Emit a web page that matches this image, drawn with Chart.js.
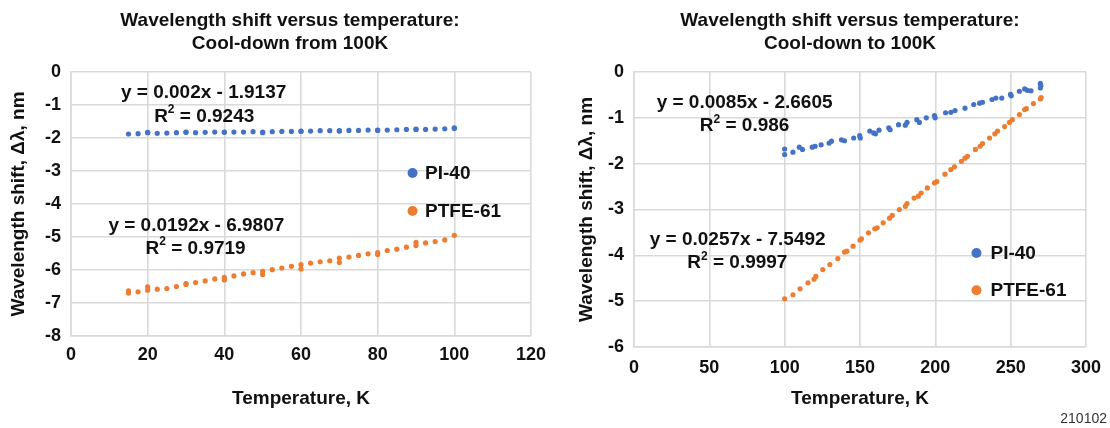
<!DOCTYPE html>
<html>
<head>
<meta charset="utf-8">
<script src="https://cdn.jsdelivr.net/npm/chart.js@4.4.1/dist/chart.umd.min.js"></script>
<style>
  body { margin: 0; background: #fff; width: 1110px; height: 428px; overflow: hidden; position: relative; }
  .box { position: absolute; top: 0; }
  #figId { position: absolute; right: 3px; top: 410px; font: 14px "Liberation Sans", Arial, sans-serif; color: #333; }
</style>
</head>
<body>
<div class="box" style="left:0px"><canvas id="leftChart" width="580" height="428"></canvas></div>
<div class="box" style="left:560px"><canvas id="rightChart" width="580" height="428"></canvas></div>
<div id="figId">210102</div>

<script>
// ---- left chart: cool-down from 100K ----
const leftTitle = ['Wavelength shift versus temperature:', 'Cool-down from 100K'];
const leftPITemps = [15, 17.5, 20, 20, 22.5, 25, 27.5, 30, 30, 32.5, 35, 37.5, 40, 40, 42.5, 45, 47.5, 50, 50, 52.5, 55, 57.5, 60, 60, 62.5, 65, 67.5, 70, 70, 72.5, 75, 77.5, 80, 80, 82.5, 85, 87.5, 90, 90, 92.5, 95, 97.5, 100, 100];
const leftPI = [-1.88, -1.87, -1.83, -1.84, -1.86, -1.85, -1.84, -1.83, -1.82, -1.84, -1.83, -1.82, -1.82, -1.83, -1.82, -1.82, -1.81, -1.82, -1.84, -1.81, -1.80, -1.80, -1.79, -1.80, -1.79, -1.78, -1.78, -1.78, -1.79, -1.77, -1.77, -1.76, -1.76, -1.77, -1.76, -1.75, -1.74, -1.73, -1.74, -1.74, -1.73, -1.72, -1.69, -1.71];
const leftPTFETemps = [15, 15, 17.5, 20, 20, 22.5, 25, 27.5, 30, 30, 32.5, 35, 37.5, 40, 40, 42.5, 45, 47.5, 50, 50, 52.5, 55, 57.5, 60, 60, 62.5, 65, 67.5, 70, 70, 72.5, 75, 77.5, 80, 80, 82.5, 85, 87.5, 90, 90, 92.5, 95, 97.5, 100];
const leftPTFE = [-6.63, -6.70, -6.66, -6.61, -6.51, -6.58, -6.56, -6.50, -6.41, -6.44, -6.38, -6.33, -6.27, -6.22, -6.30, -6.18, -6.12, -6.08, -6.04, -6.14, -5.99, -5.94, -5.89, -5.84, -5.97, -5.79, -5.75, -5.72, -5.64, -5.77, -5.61, -5.56, -5.51, -5.47, -5.53, -5.41, -5.37, -5.31, -5.16, -5.26, -5.18, -5.14, -5.09, -4.95];
const leftXTicks = [0, 20, 40, 60, 80, 100, 120];
const leftYTicks = [0, -1, -2, -3, -4, -5, -6, -7, -8];
const leftNotes = ['y = 0.002x - 1.9137', 'R² = 0.9243', 'y = 0.0192x - 6.9807', 'R² = 0.9719'];

// ---- right chart: cool-down to 100K ----
const rightTitle = ['Wavelength shift versus temperature:', 'Cool-down to 100K'];
const rightPITemps = [100, 100, 105.5, 109.7, 111.8, 118.3, 120.2, 124.2, 129.5, 131.1, 137.7, 139.7, 145.8, 149.8, 150.2, 156.5, 159.1, 160.3, 162.6, 169.1, 170.0, 175.6, 180.1, 181.2, 187.7, 189.4, 194.0, 199.4, 199.9, 206.8, 210.3, 213.1, 219.7, 225.5, 229.4, 231.3, 237.6, 240.2, 244.1, 249.9, 250.4, 255.8, 259.3, 261.1, 263.5, 269.7, 270.0, 269.7];
const rightPI = [-1.68, -1.80, -1.75, -1.64, -1.69, -1.64, -1.62, -1.59, -1.55, -1.51, -1.48, -1.50, -1.44, -1.39, -1.44, -1.29, -1.33, -1.35, -1.27, -1.22, -1.26, -1.15, -1.16, -1.10, -1.04, -1.10, -1.00, -0.95, -1.00, -0.89, -0.88, -0.84, -0.79, -0.71, -0.68, -0.66, -0.60, -0.57, -0.57, -0.49, -0.52, -0.42, -0.37, -0.40, -0.41, -0.25, -0.30, -0.35];
const rightPTFETemps = [100, 105.5, 110.2, 115.5, 119.5, 120.7, 125.3, 130.0, 135.3, 139.7, 141.2, 145.4, 150.0, 150.9, 155.6, 159.8, 161.4, 165.4, 169.6, 171.4, 176.1, 180.1, 181.2, 185.9, 188.7, 190.5, 194.7, 199.4, 201.0, 206.4, 210.3, 212.7, 217.3, 219.7, 221.3, 226.6, 229.7, 231.3, 236.0, 239.5, 241.3, 246.0, 249.2, 251.1, 255.8, 259.3, 260.4, 265.1, 269.7, 270.2];
const rightPTFE = [-4.95, -4.86, -4.73, -4.60, -4.52, -4.46, -4.31, -4.20, -4.07, -3.93, -3.91, -3.80, -3.67, -3.64, -3.51, -3.42, -3.40, -3.29, -3.19, -3.13, -3.00, -2.93, -2.87, -2.75, -2.71, -2.64, -2.53, -2.42, -2.39, -2.23, -2.13, -2.07, -1.95, -1.88, -1.84, -1.69, -1.62, -1.56, -1.44, -1.35, -1.29, -1.19, -1.10, -1.04, -0.93, -0.82, -0.80, -0.69, -0.59, -0.56];
const rightXTicks = [0, 50, 100, 150, 200, 250, 300];
const rightYTicks = [0, -1, -2, -3, -4, -5, -6];
const rightNotes = ['y = 0.0085x - 2.6605', 'R² = 0.986', 'y = 0.0257x - 7.5492', 'R² = 0.9997'];

const seriesNames = ['PI-40', 'PTFE-61'];
const BLUE = '#4472C4';
const ORANGE = '#ED7D31';
const GRID = '#d9d9d9';
const INK = '#111';
const FAMILY = '"Liberation Sans", Arial, Helvetica, sans-serif';

function pairUp(xs, ys) {
  return xs.map((x, i) => ({ x: x, y: ys[i] }));
}

// equation text, with the "²" drawn as a raised small 2
function drawNote(ctx, text, cx, cy, size) {
  const big = 'bold ' + size + 'px ' + FAMILY;
  const small = 'bold ' + Math.round(size * 0.62) + 'px ' + FAMILY;
  const parts = text.split('²');
  ctx.font = big;
  if (parts.length === 1) {
    ctx.textAlign = 'center';
    ctx.fillText(text, cx, cy);
    return;
  }
  const w1 = ctx.measureText(parts[0]).width;
  const w3 = ctx.measureText(parts[1]).width;
  ctx.font = small;
  const w2 = ctx.measureText('2').width;
  let x = cx - (w1 + w2 + w3) / 2;
  ctx.textAlign = 'left';
  ctx.font = big;
  ctx.fillText(parts[0], x, cy);
  x += w1;
  ctx.font = small;
  ctx.fillText('2', x, cy - size * 0.36);
  x += w2;
  ctx.font = big;
  ctx.fillText(parts[1], x, cy);
}

const notesPlugin = {
  id: 'notes',
  afterDatasetsDraw(chart, args, opts) {
    const ctx = chart.ctx;
    const xs = chart.scales.x, ys = chart.scales.y;
    ctx.save();
    ctx.fillStyle = INK;
    ctx.textBaseline = 'middle';
    opts.labels.forEach(l => {
      drawNote(ctx, l.text, xs.getPixelForValue(l.x), ys.getPixelForValue(l.y), opts.size);
    });
    // legend inside the plot
    const lg = opts.legend;
    chart.data.datasets.forEach((ds, i) => {
      const px = xs.getPixelForValue(lg.x);
      const py = ys.getPixelForValue(lg.y[i]);
      ctx.fillStyle = ds.backgroundColor;
      ctx.beginPath();
      ctx.arc(px, py, 5, 0, Math.PI * 2);
      ctx.fill();
      ctx.fillStyle = INK;
      ctx.textAlign = 'left';
      ctx.font = 'bold ' + opts.size + 'px ' + FAMILY;
      ctx.fillText(ds.label, px + lg.gap, py + 1);
    });
    ctx.restore();
  }
};

function makeChart(id, cfg) {
  const ctx = document.getElementById(id).getContext('2d');
  return new Chart(ctx, {
    type: 'scatter',
    data: {
      datasets: [{
        label: seriesNames[0],
        data: pairUp(cfg.piT, cfg.pi),
        backgroundColor: BLUE,
        borderWidth: 0,
        pointRadius: 2.6
      }, {
        label: seriesNames[1],
        data: pairUp(cfg.ptfeT, cfg.ptfe),
        backgroundColor: ORANGE,
        borderWidth: 0,
        pointRadius: 2.6
      }]
    },
    options: {
      responsive: false,
      animation: false,
      events: [],
      layout: { padding: 0 },
      plugins: {
        legend: { display: false },
        tooltip: { enabled: false },
        title: {
          display: true,
          text: cfg.title,
          color: INK,
          font: { family: FAMILY, size: 19, weight: 'bold', lineHeight: 1.21 },
          padding: { top: 9.5, bottom: 16.5 }
        },
        notes: {
          size: 19,
          labels: cfg.notes.map((t, i) => ({ text: t, x: cfg.notePos[i][0], y: cfg.notePos[i][1] })),
          legend: cfg.legend
        }
      },
      scales: {
        x: {
          type: 'linear',
          min: cfg.xTicks[0],
          max: cfg.xTicks[cfg.xTicks.length - 1],
          afterBuildTicks: s => { s.ticks = cfg.xTicks.map(v => ({ value: v })); },
          afterFit: s => { s.height = cfg.xHeight; },
          grid: { color: GRID, lineWidth: 1.6, drawTicks: false },
          border: { color: GRID, width: 1.6 },
          ticks: { color: INK, padding: cfg.xTickPad, font: { family: FAMILY, size: 18, weight: 'bold' } },
          title: {
            display: true,
            text: 'Temperature, K',
            color: INK,
            font: { family: FAMILY, size: 19, weight: 'bold' },
            padding: { top: 4, bottom: 18 }
          }
        },
        y: {
          type: 'linear',
          min: cfg.yTicks[cfg.yTicks.length - 1],
          max: cfg.yTicks[0],
          afterBuildTicks: s => { s.ticks = cfg.yTicks.slice().reverse().map(v => ({ value: v })); },
          afterFit: s => { s.width = cfg.yWidth; },
          grid: { color: GRID, lineWidth: 1.6, drawTicks: false },
          border: { color: GRID, width: 1.6 },
          ticks: { color: INK, padding: 10, font: { family: FAMILY, size: 18, weight: 'bold' } },
          title: {
            display: true,
            text: 'Wavelength shift, Δλ, nm',
            color: INK,
            font: { family: FAMILY, size: 19, weight: 'bold' },
            padding: { top: cfg.yTitlePad, bottom: 4 }
          }
        },
        // empty right axis, only reserves room so the plot ends where the original does
        spacer: {
          type: 'linear',
          axis: 'y',
          position: 'right',
          grid: { display: false },
          border: { display: false },
          ticks: { display: false },
          afterFit: s => { s.width = cfg.rightGap; }
        }
      }
    },
    plugins: [notesPlugin]
  });
}

document.addEventListener('DOMContentLoaded', () => {
  makeChart('leftChart', {
    title: leftTitle,
    piT: leftPITemps, pi: leftPI,
    ptfeT: leftPTFETemps, ptfe: leftPTFE,
    xTicks: leftXTicks, yTicks: leftYTicks,
    notes: leftNotes,
    notePos: [[34.6, -0.64], [34.75, -1.36], [32.7, -4.67], [32.5, -5.36]],
    legend: { x: 89.1, y: [-3.06, -4.21], gap: 12.5 },
    xHeight: 92, xTickPad: 8,
    yWidth: 71, yTitlePad: 7,
    rightGap: 49
  });
  makeChart('rightChart', {
    title: rightTitle,
    piT: rightPITemps, pi: rightPI,
    ptfeT: rightPTFETemps, ptfe: rightPTFE,
    xTicks: rightXTicks, yTicks: rightYTicks,
    notes: rightNotes,
    notePos: [[73.4, -0.68], [73.4, -1.18], [68.8, -3.67], [68.6, -4.17]],
    legend: { x: 227.3, y: [-3.95, -4.76], gap: 14 },
    xHeight: 81, xTickPad: 10,
    yWidth: 74, yTitlePad: 15,
    rightGap: 54
  });
});
</script>
</body>
</html>
